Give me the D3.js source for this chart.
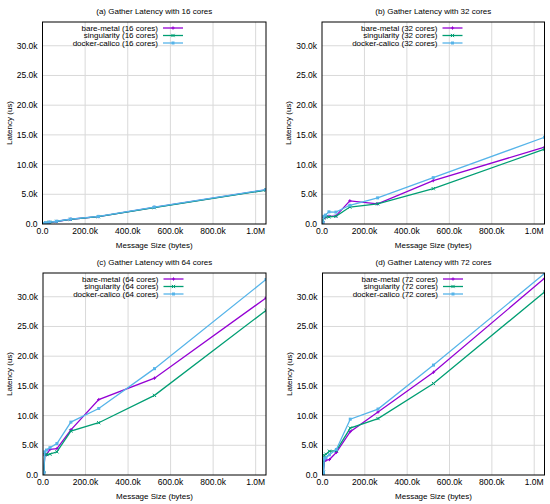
<!DOCTYPE html>
<html><head><meta charset="utf-8">
<script src="https://cdn.jsdelivr.net/npm/d3@7"></script>
<style>body{margin:0;background:#fff}svg{display:block}text{font-family:"Liberation Sans",Arial,sans-serif}</style>
</head><body><svg id="c" width="550" height="504"></svg>
<script>
const sizes = [1,2,4,8,16,32,64,128,256,512,1024,2048,4096,8192,16384,32768,65536,131072,262144,524288,1048576];
const seriesNames = ["bare-metal","singularity","docker-calico"];
const coreCounts = [16,32,64,72];
const panelTitles = ["(a) Gather Latency with 16 cores","(b) Gather Latency with 32 cores","(c) Gather Latency with 64 cores","(d) Gather Latency with 72 cores"];
const xTicks = [0,200000,400000,600000,800000,1000000];
const xTickLabels = ["0.0","200.0k","400.0k","600.0k","800.0k","1.0M"];
const yTicks = [0,5000,10000,15000,20000,25000,30000];
const yTickLabels = ["0.0","5.0k","10.0k","15.0k","20.0k","25.0k","30.0k"];

// latency (us) per size
const bare16 = [3,3,3,3,4,4,5,6,8,10,14,20,35,70,170,280,420,800,1250,2800,5750];
const sing16 = [3,3,3,3,4,4,5,6,8,11,15,22,38,75,180,290,430,780,1230,2750,5700];
const dock16 = [8,8,8,9,9,10,11,13,16,20,28,40,60,110,220,330,460,820,1280,2850,5800];

const bare32 = [10,10,11,12,13,15,18,22,30,45,70,120,250,1100,1150,1300,1350,3900,3400,7300,12950];
const sing32 = [10,10,11,12,13,15,18,22,30,45,70,120,240,1000,1200,1200,1300,2850,3400,5950,12600];
const dock32 = [20,20,21,22,24,26,30,35,45,60,90,150,300,1300,1500,2050,2000,3150,4400,7800,14600];

const bare64 = [15,15,16,18,20,22,26,32,45,70,110,200,400,3400,3450,4300,4450,7600,12700,16300,29800];
const sing64 = [15,15,16,18,20,22,26,32,45,70,110,200,400,3400,3450,3500,3900,7400,8800,13400,27700];
const dock64 = [30,30,31,33,35,38,42,50,65,90,140,250,450,3900,4200,4600,5300,8900,11200,17900,32900];

const bare72 = [18,18,19,20,22,25,30,36,50,75,120,220,450,2300,2500,2600,3800,7300,10600,17300,33100];
const sing72 = [18,18,19,20,22,25,30,36,50,75,120,220,450,3300,3500,4000,4100,7900,9500,15400,30800];
const dock72 = [35,35,36,38,40,43,48,56,70,95,150,270,500,2700,2900,3400,4300,9400,11100,18500,33900];

const panelData = [[bare16,sing16,dock16],[bare32,sing32,dock32],[bare64,sing64,dock64],[bare72,sing72,dock72]];
const colors = ["#9400d3","#009e73","#56b4e9"];

const panels = [
  {l:42.5,r:266,t:22,b:224},
  {l:322,r:544.5,t:22,b:224},
  {l:43,r:266,t:273,b:475},
  {l:322.5,r:544.5,t:273,b:475}
];

const svg = d3.select("#c");
const defs = svg.append("defs");

panels.forEach((p,pi)=>{
  const x = d3.scaleLinear().domain([0,1048576]).range([p.l,p.r]);
  const y = d3.scaleLinear().domain([0,34000]).range([p.b,p.t]);
  const g = svg.append("g");
  g.selectAll(".gx").data(xTicks.slice(1)).join("line")
    .attr("x1",d=>x(d)).attr("x2",d=>x(d)).attr("y1",p.t).attr("y2",p.b)
    .attr("stroke","#d9d9d9").attr("stroke-width",1);
  g.selectAll(".gy").data(yTicks.slice(1)).join("line")
    .attr("x1",p.l).attr("x2",p.r).attr("y1",d=>y(d)).attr("y2",d=>y(d))
    .attr("stroke","#d9d9d9").attr("stroke-width",1);
  g.selectAll(".tx").data(xTicks).join("text")
    .attr("x",d=>x(d)).attr("y",p.b+10).attr("text-anchor","middle")
    .attr("font-size",8.5).text((d,i)=>xTickLabels[i]);
  g.selectAll(".ty").data(yTicks).join("text")
    .attr("x",p.l-5).attr("y",d=>y(d)+3).attr("text-anchor","end")
    .attr("font-size",8.5).text((d,i)=>yTickLabels[i]);
  g.append("text").attr("x",(p.l+p.r)/2).attr("y",p.t-8.5).attr("text-anchor","middle")
    .attr("font-size",8).text(panelTitles[pi]);
  g.append("text").attr("x",(p.l+p.r)/2).attr("y",p.b+24).attr("text-anchor","middle")
    .attr("font-size",8).text("Message Size (bytes)");
  g.append("text").attr("transform",`translate(${p.l-31},${(p.t+p.b)/2}) rotate(-90)`)
    .attr("text-anchor","middle").attr("font-size",8).text("Latency (us)");
  const cid = "clip"+pi;
  defs.append("clipPath").attr("id",cid).append("rect")
    .attr("x",p.l).attr("y",p.t).attr("width",p.r-p.l).attr("height",p.b-p.t);
  const plot = g.append("g").attr("clip-path",`url(#${cid})`);
  const line = d3.line().x((d,i)=>x(sizes[i])).y(d=>y(d));
  panelData[pi].forEach((vals,si)=>{
    plot.append("path").attr("d",line(vals)).attr("fill","none")
      .attr("stroke",colors[si]).attr("stroke-width",1.3);
    const pts = plot.selectAll(null).data(vals).join("g")
      .attr("transform",(d,i)=>`translate(${x(sizes[i])},${y(d)})`);
    drawMarker(pts,si,colors[si]);
  });
  seriesNames.forEach((nm,si)=>{
    const ly = p.t+6+si*7.5;
    g.append("text").attr("x",p.l+115.5).attr("y",ly+2.8).attr("text-anchor","end")
      .attr("font-size",8).text(`${nm} (${coreCounts[pi]} cores)`);
    g.append("line").attr("x1",p.l+120.5).attr("x2",p.l+140.5).attr("y1",ly).attr("y2",ly)
      .attr("stroke",colors[si]).attr("stroke-width",1.3);
    const m = g.append("g").attr("transform",`translate(${p.l+130.5},${ly})`);
    drawMarker(m,si,colors[si]);
  });
  g.append("rect").attr("x",p.l).attr("y",p.t).attr("width",p.r-p.l).attr("height",p.b-p.t)
    .attr("fill","none").attr("stroke","#000").attr("stroke-width",1);
});

function drawMarker(sel,si,c){
  const s=1.6;
  if(si===0){
    sel.append("path").attr("d",`M${-s},0H${s}M0,${-s}V${s}`).attr("stroke",c).attr("stroke-width",1);
  } else if(si===1){
    sel.append("path").attr("d",`M${-s},${-s}L${s},${s}M${-s},${s}L${s},${-s}`).attr("stroke",c).attr("stroke-width",1);
  } else {
    sel.append("rect").attr("x",-1.5).attr("y",-1.5).attr("width",3).attr("height",3).attr("fill",c);
  }
}
</script></body></html>
